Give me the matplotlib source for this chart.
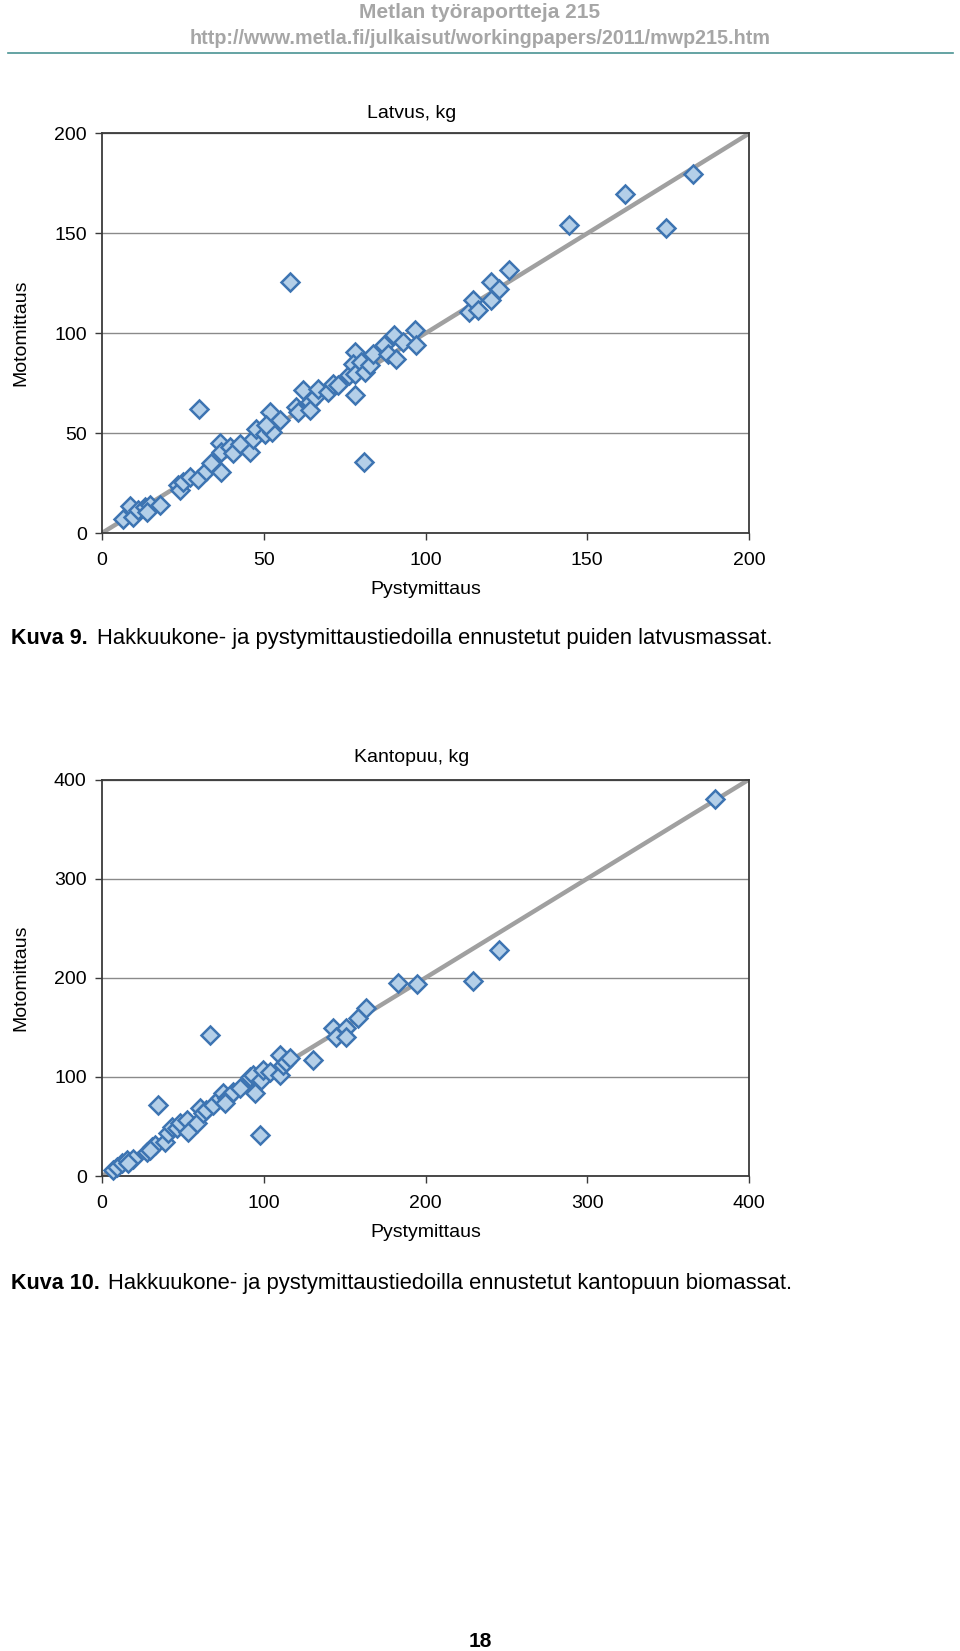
import matplotlib.pyplot as plt

# Latvus, kg  (pystymittaus, motomittaus)
latvus_pysty = [6.6, 8.8, 9.7, 11.2, 13.3, 14.8, 17.9, 13.8, 23.6, 24.1, 25.1, 27.2, 29.7, 32.3,
                33.8, 36.9, 36.4, 36.9, 39.5, 40.5, 42.6, 45.7, 46.7, 47.7, 50.3, 51.9, 52.4, 54.9,
                50.8, 30.0, 58.0, 60.1, 60.6, 62.1, 64.2, 64.2, 65.7, 66.8, 69.9, 71.4, 72.9, 76.5,
                78.1, 78.1, 77.6, 78.1, 80.1, 81.2, 80.9, 82.7, 83.8, 87.3, 88.4, 90.4, 90.9, 93.0,
                96.6, 97.1, 113.6, 114.6, 116.1, 120.3, 120.3, 122.6, 125.7, 144.4, 174.3, 161.8, 182.6]
latvus_moto = [6.8, 13.5, 8.2, 11.5, 13.2, 14.0, 14.0, 10.7, 24.0, 21.5, 25.7, 28.2, 26.8, 31.2,
               34.8, 30.7, 45.2, 40.7, 43.2, 39.8, 44.8, 40.7, 47.3, 52.3, 49.8, 60.7, 50.7, 56.5,
               54.0, 62.3, 125.7, 63.2, 60.7, 71.5, 65.7, 61.5, 68.2, 72.3, 70.7, 74.8, 74.0, 79.0,
               90.7, 69.0, 84.8, 79.8, 85.7, 80.7, 35.7, 84.0, 89.8, 94.0, 89.8, 99.0, 87.3, 95.7,
               101.5, 94.0, 110.7, 116.5, 111.8, 125.7, 116.5, 122.3, 131.5, 154.0, 152.8, 169.7, 179.7]

# Kantopuu, kg
kanto_pysty = [7.0, 9.0, 12.1, 15.2, 19.3, 16.3, 27.6, 30.7, 32.7, 29.6, 38.9, 41.0, 43.0, 34.8,
               46.1, 48.1, 52.3, 53.3, 58.5, 60.5, 62.5, 64.6, 68.7, 72.8, 74.9, 77.0, 75.9, 81.0,
               85.2, 91.4, 93.4, 94.4, 97.5, 98.6, 99.6, 103.7, 109.9, 109.9, 111.9, 114.0, 116.0,
               130.4, 66.7, 142.8, 144.9, 151.0, 151.0, 158.2, 163.4, 183.3, 194.6, 229.6, 245.3, 379.0]
kanto_moto = [6.0, 9.4, 12.8, 16.2, 16.9, 13.4, 24.5, 29.6, 31.3, 26.3, 34.6, 43.1, 49.8, 71.7,
              48.2, 53.2, 56.6, 44.7, 53.2, 68.4, 63.3, 66.7, 71.7, 78.5, 83.5, 78.5, 73.4, 85.2,
              88.6, 100.3, 102.0, 83.5, 41.4, 97.0, 107.1, 105.4, 122.2, 102.0, 112.1, 115.5, 118.9,
              117.2, 142.4, 149.2, 140.7, 149.2, 140.7, 159.3, 169.4, 195.2, 193.6, 197.0, 228.0, 380.5]

latvus_ticks = [0, 50, 100, 150, 200]
kanto_ticks = [0, 100, 200, 300, 400]

W, H = 960, 1651
fig = plt.figure(figsize=(W / 100, H / 100), dpi=100)
plt.rcParams['font.family'] = ['Liberation Sans', 'DejaVu Sans']


def fy(py):
    return 1 - py / H


def fx(px):
    return px / W


def scatter_panel(rect, xs, ys, ticks, title, title_y):
    ax = fig.add_axes(rect)
    lim = [ticks[0], ticks[-1]]
    ax.plot(lim, lim, color='#a0a0a0', lw=3.2, zorder=2, solid_capstyle='butt')
    ax.plot(xs, ys, ls='none', marker='D', ms=9, mfc='#b4cfe8', mec='#3d74b2',
            mew=1.8, zorder=3, clip_on=False)
    ax.set_xlim(lim)
    ax.set_ylim(lim)
    ax.set_xticks(ticks)
    ax.set_yticks(ticks)
    ax.yaxis.grid(True, color='#8a8a8a', lw=1.0)
    ax.set_axisbelow(True)
    for s in ax.spines.values():
        s.set_color('#3a3a3a')
        s.set_linewidth(1.3)
    ax.tick_params(direction='out', length=5, width=1, color='#3a3a3a',
                   labelsize=14, pad=6)
    ax.tick_params(axis='x', pad=9)
    ax.set_xlabel('Pystymittaus', fontsize=14, labelpad=8)
    ax.set_ylabel('Motomittaus', fontsize=14, labelpad=18)
    fig.text(fx(412), fy(title_y), title, fontsize=14, ha='center', va='center')
    return ax


ax1 = scatter_panel([fx(102), fy(533), fx(647), (533 - 133.5) / H],
                    latvus_pysty, latvus_moto, latvus_ticks, 'Latvus, kg', 113)
ax2 = scatter_panel([fx(102), fy(1176), fx(647), (1176 - 779.5) / H],
                    kanto_pysty, kanto_moto, kanto_ticks, 'Kantopuu, kg', 757)

# page header
fig.text(0.5, fy(12), 'Metlan työraportteja 215', fontsize=15,
         fontweight='bold', color='#a6a6a6', ha='center', va='center')
fig.text(0.5, fy(39), 'http://www.metla.fi/julkaisut/workingpapers/2011/mwp215.htm',
         fontsize=14.2, fontweight='bold', color='#a6a6a6',
         ha='center', va='center')
fig.add_artist(plt.Line2D([fx(8), fx(953)], [fy(53), fy(53)], color='#4a9494', lw=1.2))

# captions
fig.text(fx(11), fy(638), 'Kuva 9.', fontsize=15.5, fontweight='bold', va='center')
fig.text(fx(97), fy(638), 'Hakkuukone- ja pystymittaustiedoilla ennustetut puiden latvusmassat.',
         fontsize=15.8, va='center')
fig.text(fx(11), fy(1283), 'Kuva 10.', fontsize=15.5, fontweight='bold', va='center')
fig.text(fx(108), fy(1283), 'Hakkuukone- ja pystymittaustiedoilla ennustetut kantopuun biomassat.',
         fontsize=15.8, va='center')

fig.text(0.5, fy(1641), '18', fontsize=15, fontweight='bold', ha='center', va='center')

fig.savefig('out.png', dpi=100)
